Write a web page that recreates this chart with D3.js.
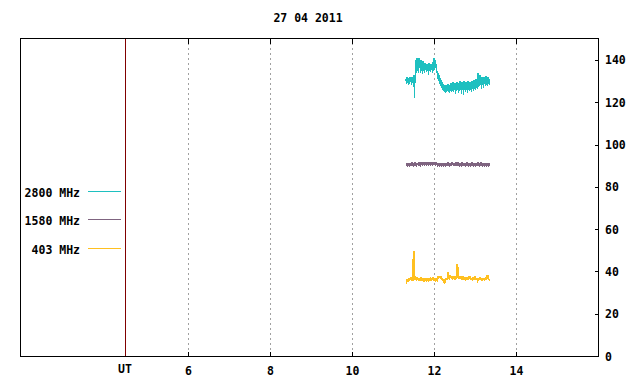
<!DOCTYPE html>
<html><head><meta charset="utf-8">
<script src="https://cdn.jsdelivr.net/npm/d3@7"></script>
<style>
html,body{margin:0;padding:0;background:#fff;}
text{font-family:"DejaVu Sans Mono",monospace;font-weight:bold;font-size:11.5px;fill:#000;}
</style></head><body>
<svg id="chart" width="640" height="384"></svg>
<script>
const title = "27 04 2011";
const xTicks = [6, 8, 10, 12, 14];
const yTicks = [0, 20, 40, 60, 80, 100, 120, 140];
const utMarker = 4.46;
const xDomain = [1.9, 16.0];
const yDomain = [0, 150.4];
const seriesNames = ["2800 MHz", "1580 MHz", "403 MHz"];
const seriesColors = ["#1ec0c0", "#7f6480", "#ffc020"];
const startTime = 11.315;      // hours UT of first sample
const stepHours = 1 / 82;      // sampling interval

const s2800 = [131,128.5,132,129,130.5,128,131.5,128.5,132,129.5,131,128,
132,129,131,127,133,122,132,129,140,134,141,135,140.5,134,141,136,139,134,140,135,
138.5,133.5,139.5,135,138,134,138.5,135.5,137.5,134.5,138,135,137,133,138.5,135,
137.5,134.5,138,135.5,137,134,139,135,141,135.5,140,136,138,134,135,131,134,130,
133,128.5,131.5,127.5,130.5,127,129.5,126,128.5,125.5,128,125,127.5,124.5,128,125,
127.5,125.5,128.5,125,127.5,124.5,128,125.5,129,125,128,125.5,129.5,125,128.5,126,
129,124,128,125.5,129.5,126,128.5,124.5,129,125.5,130,126,128.5,124,129.5,126,
128,123.5,130,126,129,125,129.5,126,128.5,124.5,130,126,129,125.5,129.5,126,
128.5,125,130,126.5,129.5,125.5,130.5,126.5,129.5,126,131,127,130,126.5,134,127,
131.5,127.5,133,128,131,126.5,132,128,130.5,127,132,128.5,131.5,127.5,132.5,128,
131,127.5,132,128.5,131,128];

const s1580 = [91,89.8,90.6,89.6,91.2,90,90.8,89.5,91.4,90.1,91,89.7,91.5,90,90.7,89.4,
91.3,90.1,91.6,89.8,90.9,89.6,91.4,90.2,91,89.7,91.5,90,90.8,89.6,91.6,90.2,
91.2,89.8,91.7,90.3,91.1,89.9,91.8,90.2,91.3,90,91.9,90.4,91.4,90,91.8,90.3,
91.5,89.9,91.9,90.5,91.4,90.1,91.7,90.2,91.8,90.2,91.3,89.9,91.6,90.2,91,89.5,
91.2,89.8,90.8,89.3,91.1,89.7,90.7,89.5,91.2,89.8,90.8,89.4,91.3,89.9,90.9,89.6,
91.4,90,91,89.7,91.5,90.1,90.9,89.6,91.3,90,91.1,89.7,91.6,90.2,91,89.8,
91.4,89.9,91.2,89.7,91.7,90.1,91.1,89.8,91.5,90,90.9,89.6,91.3,89.9,91,89.6,
91.5,90,91.1,89.7,91.4,89.9,90.9,89.5,91.3,89.8,91.6,90.1,91,89.6,91.4,89.9,
90.8,89.5,91.2,89.7,91.5,90,90.9,89.6,91.3,89.8,91,89.5,91.4,89.9,91.1,89.7,
91.5,89.9,90.9,89.5,91.3,89.8,91.6,90,91,89.6,91.4,89.8,91.1,89.5,91.3,89.9,
90.8,89.4,91.2,89.7,91,89.6,91.3,89.8];

const s403 = [35.5,35,36.5,35.5,36,35.5,37,35.5,36.5,35.8,37.5,36,36.5,35.5,46,35.5,
49.5,36,38,36,37,35.5,37.5,35.8,36.5,35.5,37,35.6,36.3,35.5,37.2,36,
36.5,35.5,36.8,35.6,36.2,35.7,37,36,36.5,35.8,37,36,36.4,35.9,37,36,
36.5,36,37,36.2,36.8,36,37.4,36.2,36.8,36,36.5,35.8,37,36.2,36.6,36,
37.8,36.5,37.8,36.8,38,37,37.5,36.5,37,36,36.3,35.4,36,35.2,36.2,35.5,
36.8,35.8,37,36,39.8,36.5,37.5,36.2,38.2,36.8,37.6,36.5,38,36.8,37.4,36.3,
38,36.6,37.2,36.2,37.8,36.5,43.5,36.8,42,36.5,38,36.3,37.5,36.5,37.8,36.6,
37.2,36.2,37.6,36.4,37,36,37.4,36.2,36.8,35.8,37.5,36.2,37.2,36,37.8,36.5,
37.6,36.4,37,35.9,36.8,35.6,37.4,36,37.2,36.2,37.6,36.5,37,35.8,36.6,35.5,
36.2,35.3,37,35.8,37.3,36.2,37,36,36.5,35.6,36.8,35.8,37,36,36.6,35.8,
37.2,36,38.5,36.5,38.2,36.4,36.2,35.5];

const seriesValues = [s2800, s1580, s403];

const svg = d3.select("#chart");
const x = d3.scaleLinear().domain(xDomain).range([20, 598]);
const y = d3.scaleLinear().domain(yDomain).range([356, 38]);
const X0 = x.range()[0], X1 = x.range()[1], Y0 = y.range()[0], Y1 = y.range()[1];
const px = v => Math.round(v) + 0.5;

// title
svg.append("text").attr("x", 308).attr("y", 22).attr("text-anchor", "middle").text(title);

// dotted gridlines
svg.append("g").selectAll("line").data(xTicks).join("line")
  .attr("x1", d => px(x(d))).attr("x2", d => px(x(d)))
  .attr("y1", Y1).attr("y2", Y0)
  .attr("stroke", "#a0a0a0").attr("stroke-width", 1).attr("stroke-dasharray", "2,3")
  .attr("shape-rendering", "crispEdges");

// UT marker line
svg.append("line").attr("x1", px(x(utMarker))).attr("x2", px(x(utMarker)))
  .attr("y1", Y1).attr("y2", Y0).attr("stroke", "#800000").attr("stroke-width", 1)
  .attr("shape-rendering", "crispEdges");

// tick marks bottom/top (inward)
const tg = svg.append("g").attr("stroke", "#000").attr("shape-rendering", "crispEdges");
xTicks.forEach(d => {
  tg.append("line").attr("x1", px(x(d))).attr("x2", px(x(d))).attr("y1", px(Y0)).attr("y2", px(Y0) - 5);
  tg.append("line").attr("x1", px(x(d))).attr("x2", px(x(d))).attr("y1", px(Y1)).attr("y2", px(Y1) + 5);
});
yTicks.forEach(d => {
  tg.append("line").attr("x1", px(X1)).attr("x2", px(X1) - 4).attr("y1", px(y(d))).attr("y2", px(y(d)));
});

// frame
svg.append("rect").attr("x", px(X0)).attr("y", px(Y1))
  .attr("width", Math.round(X1) - Math.round(X0)).attr("height", Math.round(Y0) - Math.round(Y1))
  .attr("fill", "none").attr("stroke", "#000").attr("shape-rendering", "crispEdges");

// x labels
svg.append("g").selectAll("text").data(xTicks).join("text")
  .attr("x", d => x(d) + 0.5).attr("y", 375).attr("text-anchor", "middle").text(d => d);
svg.append("text").attr("x", x(utMarker)).attr("y", 373).attr("text-anchor", "middle").text("UT");

// y labels (right)
svg.append("g").selectAll("text").data(yTicks).join("text")
  .attr("x", 605).attr("y", d => y(d) + 4.5).text(d => d);

// series
const line = d3.line().x((d, i) => x(startTime + i * stepHours)).y(d => y(d));
seriesValues.forEach((vals, k) => {
  svg.append("path").datum(vals).attr("d", line)
    .attr("fill", "none").attr("stroke", seriesColors[k]).attr("stroke-width", 1.2)
    .attr("shape-rendering", "crispEdges");
});

// legend
const legY = [191, 219, 248];
seriesNames.forEach((n, k) => {
  svg.append("text").attr("x", 80).attr("y", legY[k] + 5.5).attr("text-anchor", "end").text(n);
  svg.append("line").attr("x1", 88).attr("x2", 121).attr("y1", legY[k] + 0.5).attr("y2", legY[k] + 0.5)
    .attr("stroke", seriesColors[k]).attr("stroke-width", 1).attr("shape-rendering", "crispEdges");
});
</script>
</body></html>
